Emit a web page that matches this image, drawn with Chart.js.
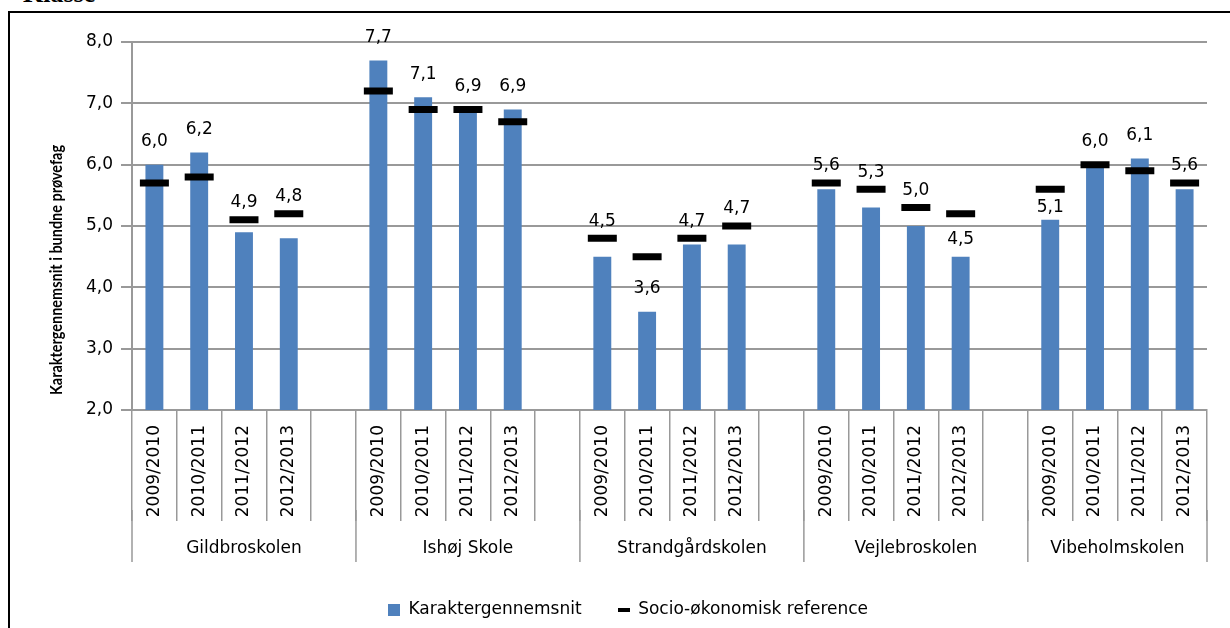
<!DOCTYPE html>
<html><head><meta charset="utf-8">
<script src="https://cdn.jsdelivr.net/npm/chart.js@4.4.1/dist/chart.umd.min.js"></script>
<style>
html,body{margin:0;padding:0;background:#fff;width:1230px;height:628px;overflow:hidden;}
#frame{position:absolute;left:8px;top:11px;width:1300px;height:700px;border-left:2px solid #000;border-top:2px solid #000;}
#head{position:absolute;left:23px;top:-19px;font:bold 26px "Liberation Serif";line-height:26px;color:#000;}
#wrap{position:absolute;left:0;top:0;width:1230px;height:628px;}
</style></head><body>
<div id="frame"></div>
<div id="head">Klasse</div>
<div id="wrap"><canvas id="c" width="1230" height="628"></canvas></div>
<script>
// ---- data ----
const schools = ['Gildbroskolen', 'Ishøj Skole', 'Strandgårdskolen', 'Vejlebroskolen', 'Vibeholmskolen'];
const years = ['2009/2010', '2010/2011', '2011/2012', '2012/2013'];
const karaktergennemsnit = [
  6.0, 6.2, 4.9, 4.8,
  7.7, 7.1, 6.9, 6.9,
  4.5, 3.6, 4.7, 4.7,
  5.6, 5.3, 5.0, 4.5,
  5.1, 6.0, 6.1, 5.6
];
const socioReference = [
  5.7, 5.8, 5.1, 5.2,
  7.2, 6.9, 6.9, 6.7,
  4.8, 4.5, 4.8, 5.0,
  5.7, 5.6, 5.3, 5.2,
  5.6, 6.0, 5.9, 5.7
];
const yMin = 2, yMax = 8, yStep = 1;
const seriesNames = ['Karaktergennemsnit', 'Socio-økonomisk reference'];
const yTitle = 'Karaktergennemsnit i bundne prøvefag';

// ---- build category slots (spacer between schools) ----
const labels = [], barData = [], refData = [], groupStart = [];
schools.forEach((s, si) => {
  groupStart.push(labels.length);
  years.forEach((y, yi) => {
    labels.push(y);
    barData.push(karaktergennemsnit[si * years.length + yi]);
    refData.push(socioReference[si * years.length + yi]);
  });
  if (si < schools.length - 1) { labels.push(''); barData.push(null); refData.push(null); }
});
groupStart.push(labels.length);

const FONT = '"DejaVu Sans"';
const fmt = v => v.toFixed(1).replace('.', ',');

function swatch(w, h, color) {
  const c = document.createElement('canvas'); c.width = w; c.height = h;
  const g = c.getContext('2d'); g.fillStyle = color; g.fillRect(0, 0, w, h); return c;
}
const sw1 = swatch(12, 12, '#4F81BD');
const sw2 = swatch(12, 4, '#000000');

const groupPlugin = {
  id: 'groups',
  afterDraw(chart) {
    const x = chart.scales.x, y = chart.scales.y, ctx = chart.ctx;
    const top = x.top;
    ctx.save();
    ctx.strokeStyle = '#999'; ctx.lineWidth = 1.5;
    groupStart.forEach(idx => {
      const px = x.getPixelForValue(idx - 0.5);
      ctx.beginPath(); ctx.moveTo(px, top + 100); ctx.lineTo(px, top + 152); ctx.stroke();
    });
    ctx.fillStyle = '#000'; ctx.font = '17px ' + FONT;
    ctx.textAlign = 'center'; ctx.textBaseline = 'middle';
    schools.forEach((s, g) => {
      const a = x.getPixelForValue(groupStart[g] - 0.5), b = x.getPixelForValue(groupStart[g + 1] - 0.5);
      ctx.fillText(s, (a + b) / 2, top + 139);
    });
    // y-axis title (Excel places it slightly below the plot centre)
    ctx.save();
    ctx.translate(57, (y.top + y.bottom) / 2 + 44);
    ctx.rotate(-Math.PI / 2);
    ctx.scale(0.85, 1);
    ctx.font = 'bold 17px Lato';
    ctx.fillText(yTitle, 0, 0);
    ctx.restore();
    ctx.restore();
  }
};

const labelPlugin = {
  id: 'vlabels',
  afterDatasetsDraw(chart) {
    const bars = chart.getDatasetMeta(0).data, refs = chart.getDatasetMeta(1).data, ctx = chart.ctx;
    ctx.save();
    ctx.fillStyle = '#000'; ctx.font = '17px ' + FONT;
    ctx.textAlign = 'center'; ctx.textBaseline = 'middle';
    barData.forEach((v, i) => {
      if (v === null) return;
      const bTop = bars[i].y, mY = refs[i].y;
      const d = bTop - mY;
      let y;
      if (d > 0.5 && d < 28) y = mY - 17;
      else if (d >= 28 && d < 50) y = Math.max(bTop - 17, mY + 18);
      else y = bTop - 23;
      ctx.fillText(fmt(v), bars[i].x, y);
    });
    ctx.restore();
  }
};

new Chart(document.getElementById('c'), {
  data: {
    labels,
    datasets: [
      { type: 'bar', label: seriesNames[0], data: barData, backgroundColor: '#4F81BD',
        categoryPercentage: 1, barPercentage: 0.4, order: 2 },
      { type: 'line', label: seriesNames[1], data: refData, showLine: false,
        pointStyle: 'line', pointRadius: 14.5, pointHoverRadius: 14.5, pointBorderWidth: 7, pointHoverBorderWidth: 7,
        borderColor: '#000', backgroundColor: '#000', order: 1 }
    ]
  },
  options: {
    responsive: false, animation: false, devicePixelRatio: 1,
    layout: { padding: { left: 49, right: 23, top: 42, bottom: 0 } },
    plugins: {
      tooltip: { enabled: false },
      legend: {
        position: 'bottom',
        labels: {
          usePointStyle: true, boxWidth: 12, boxHeight: 12, padding: 36,
          font: { family: FONT, size: 17 }, color: '#000',
          generateLabels: (chart) => chart.data.datasets.map((ds, i) => ({
            text: ds.label, pointStyle: i === 0 ? sw1 : sw2, datasetIndex: i,
            fillStyle: i === 0 ? '#4F81BD' : '#000', strokeStyle: 'transparent', lineWidth: 0, hidden: false
          }))
        }
      }
    },
    scales: {
      x: {
        type: 'category', offset: true,
        grid: { offset: true, drawOnChartArea: false, drawTicks: true, tickLength: 111, color: '#999', lineWidth: 1.5 },
        border: { display: true, color: '#999', width: 2 },
        ticks: { autoSkip: false, minRotation: 90, maxRotation: 90, padding: -96,
          font: { family: FONT, size: 17 }, color: '#000' },
        afterFit: s => { s.height = 155; }
      },
      y: {
        min: yMin, max: yMax,
        ticks: { stepSize: yStep, callback: v => fmt(v), padding: 8,
          font: { family: FONT, size: 17 }, color: '#000' },
        grid: { color: '#999', lineWidth: 2, tickLength: 11 },
        border: { display: true, color: '#999', width: 2 },
        afterFit: s => { s.width = 83; }
      }
    }
  },
  plugins: [groupPlugin, labelPlugin]
});
</script>
</body></html>
